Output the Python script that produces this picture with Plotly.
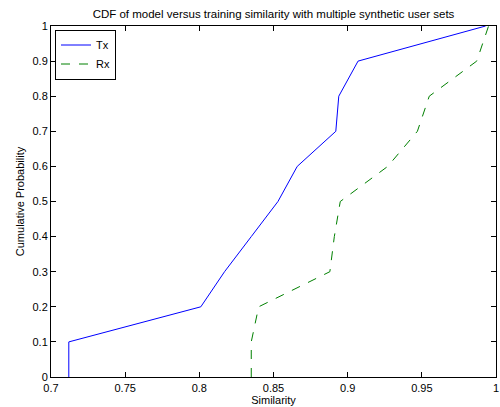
import plotly.graph_objects as go

tx_x = [0.712, 0.712, 0.801, 0.817, 0.835, 0.853, 0.866, 0.892, 0.894, 0.907, 0.993]
tx_y = [0.0, 0.1, 0.2, 0.3, 0.4, 0.5, 0.6, 0.7, 0.8, 0.9, 1.0]
rx_x = [0.835, 0.835, 0.840, 0.888, 0.891, 0.895, 0.927, 0.947, 0.955, 0.987, 0.995]
rx_y = [0.0, 0.1, 0.2, 0.3, 0.4, 0.5, 0.6, 0.7, 0.8, 0.9, 1.0]

x_ticks = [0.7, 0.75, 0.8, 0.85, 0.9, 0.95, 1.0]
x_labels = ["0.7", "0.75", "0.8", "0.85", "0.9", "0.95", "1"]
y_ticks = [0, 0.1, 0.2, 0.3, 0.4, 0.5, 0.6, 0.7, 0.8, 0.9, 1.0]
y_labels = ["0", "0.1", "0.2", "0.3", "0.4", "0.5", "0.6", "0.7", "0.8", "0.9", "1"]

font = "Liberation Sans, Arial, sans-serif"

fig = go.Figure()
fig.add_trace(go.Scatter(x=tx_x, y=tx_y, mode="lines", name="Tx",
                         line=dict(color="#0000ff", width=1)))
fig.add_trace(go.Scatter(x=rx_x, y=rx_y, mode="lines", name="Rx",
                         line=dict(color="#008000", width=1, dash="dash")))

axis_common = dict(showgrid=False, zeroline=False, showline=True, linecolor="black",
                   linewidth=1, mirror="ticks", ticks="inside", ticklen=5,
                   tickcolor="black", tickfont=dict(family=font, size=11, color="black"))

fig.update_layout(
    width=500, height=407,
    margin=dict(l=51, r=4, t=26, b=30),
    paper_bgcolor="white", plot_bgcolor="white",
    title=dict(text="CDF of model versus training similarity with multiple synthetic user sets",
               x=0.547, xanchor="center", y=0.965, yanchor="middle",
               font=dict(family=font, size=11.5, color="black")),
    xaxis=dict(range=[0.7, 1.0], tickvals=x_ticks, ticktext=x_labels,
               ticklabelstandoff=1,
               title=dict(text="Similarity", standoff=0, font=dict(family=font, size=11, color="black")),
               automargin=False, **axis_common),
    yaxis=dict(range=[0, 1], tickvals=y_ticks, ticktext=y_labels,
               title=dict(text="Cumulative Probability", standoff=5, font=dict(family=font, size=11, color="black")),
               automargin=False, **axis_common),
    legend=dict(x=0.009, y=0.99, xanchor="left", yanchor="top",
                bgcolor="white", bordercolor="black", borderwidth=1,
                font=dict(family=font, size=11, color="black"),
                tracegroupgap=0, itemwidth=30),
    showlegend=True,
)

fig.write_html("out.html", config={"displayModeBar": False},
               post_script="document.body.style.margin='0px';")
